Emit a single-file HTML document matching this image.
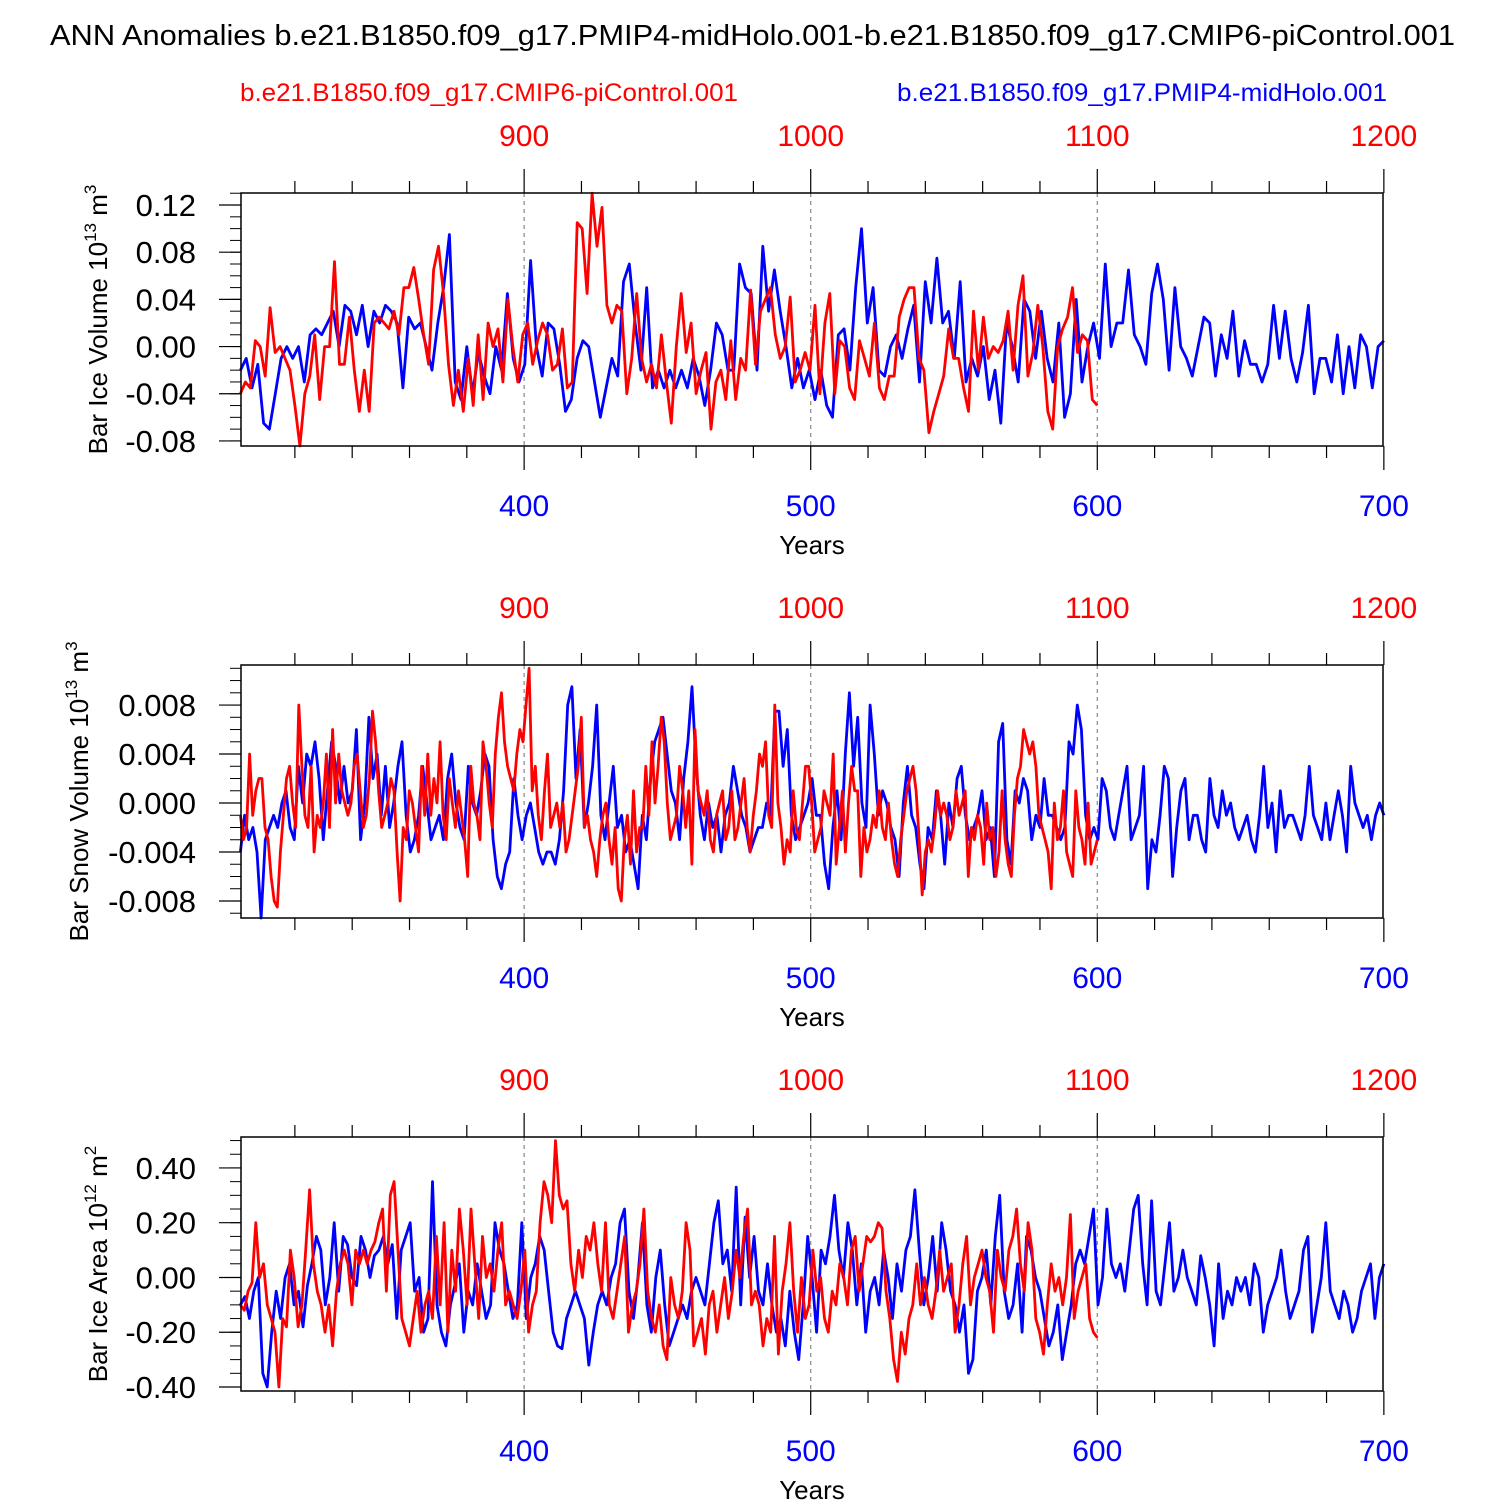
<!DOCTYPE html>
<html><head><meta charset="utf-8"><style>
html,body{margin:0;padding:0;background:#fff;}
svg{display:block;font-family:"Liberation Sans",Arial,sans-serif;}
</style></head><body>
<svg id="chart" width="1500" height="1500" viewBox="0 0 1500 1500">
<text x="50" y="45" font-size="29" textLength="1405" lengthAdjust="spacingAndGlyphs">ANN Anomalies b.e21.B1850.f09_g17.PMIP4-midHolo.001-b.e21.B1850.f09_g17.CMIP6-piControl.001</text>
<text x="240" y="101" font-size="25" fill="#ff0000" textLength="498" lengthAdjust="spacingAndGlyphs">b.e21.B1850.f09_g17.CMIP6-piControl.001</text>
<text x="897" y="101" font-size="25" fill="#0000ff" textLength="490" lengthAdjust="spacingAndGlyphs">b.e21.B1850.f09_g17.PMIP4-midHolo.001</text>
</svg>
<script>
const blueStart = 301, blueEnd = 700, redStart = 301, redEnd = 600, redOffset = 500;
const xTicksBottom = [400, 500, 600, 700];
const xTicksTopLabels = [900, 1000, 1100, 1200];

const iceVolTicks = [0.12, 0.08, 0.04, 0.00, -0.04, -0.08];
const iceVolTickLabels = ["0.12","0.08","0.04","0.00","-0.04","-0.08"];
const iceVolBlue = [-0.02,-0.01,-0.035,-0.015,-0.065,-0.07,-0.04,-0.01,0.0,-0.01,0.0,-0.03,0.01,0.015,0.01,0.02,0.03,0.0,0.035,0.03,0.01,0.035,0.0,0.03,0.02,0.035,0.03,0.02,-0.035,0.025,0.015,0.02,0.0,-0.02,0.02,0.05,0.095,-0.03,-0.045,0.0,-0.04,-0.005,-0.025,-0.04,0.0,-0.02,0.045,-0.01,-0.03,-0.015,0.073,0.0,-0.025,0.02,0.015,-0.015,-0.055,-0.045,-0.01,0.005,0.0,-0.03,-0.06,-0.035,-0.01,-0.025,0.055,0.07,0.02,-0.02,0.05,-0.035,-0.02,-0.035,-0.02,-0.035,-0.02,-0.035,-0.01,-0.025,-0.05,-0.02,0.02,0.01,-0.02,-0.02,0.07,0.05,0.045,-0.02,0.085,0.03,0.065,0.03,0.0,-0.035,-0.01,-0.035,-0.02,-0.045,-0.02,-0.05,-0.06,0.01,0.015,-0.02,0.05,0.1,0.02,0.05,-0.02,-0.025,0.0,0.01,-0.01,0.015,0.035,-0.03,0.055,0.02,0.075,0.02,0.03,-0.01,0.055,-0.03,-0.01,-0.025,0.0,-0.045,-0.02,-0.065,0.02,0.0,-0.03,0.04,0.03,-0.01,0.03,-0.01,-0.03,0.02,-0.06,-0.04,0.04,-0.03,0.0,0.02,-0.01,0.07,0.0,0.02,0.02,0.065,0.01,0.0,-0.015,0.045,0.07,0.04,-0.02,0.05,0.0,-0.01,-0.025,0.0,0.025,0.02,-0.025,0.01,-0.01,0.03,-0.025,0.005,-0.015,-0.015,-0.03,-0.015,0.035,-0.01,0.03,-0.01,-0.03,-0.005,0.035,-0.04,-0.01,-0.01,-0.03,0.01,-0.04,0.0,-0.035,0.01,0.0,-0.035,0.0,0.005];
const iceVolRed = [-0.04,-0.03,-0.035,0.005,0.0,-0.025,0.033,-0.005,0.0,-0.01,-0.02,-0.05,-0.085,-0.04,-0.025,0.01,-0.045,0.0,0.0,0.072,-0.015,-0.015,0.025,-0.02,-0.055,-0.02,-0.055,0.02,0.025,0.02,0.015,0.03,0.01,0.05,0.05,0.067,0.04,0.01,-0.015,0.065,0.085,0.045,-0.015,-0.05,-0.02,-0.055,-0.01,-0.05,0.01,-0.045,0.02,0.0,0.015,-0.03,0.04,0.0,-0.03,0.01,0.02,-0.015,0.005,0.02,0.01,-0.02,-0.015,0.015,-0.035,-0.03,0.105,0.1,0.045,0.13,0.085,0.118,0.035,0.02,0.035,0.03,-0.04,-0.01,0.045,-0.01,-0.03,-0.015,-0.035,0.01,-0.03,-0.065,0.0,0.045,-0.005,0.02,-0.04,-0.02,-0.005,-0.07,-0.03,-0.02,-0.045,0.005,-0.045,-0.01,-0.02,0.048,-0.015,0.03,0.04,0.05,0.01,-0.01,0.0,0.042,-0.03,-0.02,-0.005,-0.02,0.035,-0.04,0.02,0.045,-0.04,0.005,0.0,-0.035,-0.045,0.005,-0.01,-0.025,0.02,-0.035,-0.045,-0.025,-0.025,0.025,0.04,0.05,0.05,-0.01,-0.02,-0.073,-0.055,-0.04,-0.025,0.015,-0.01,-0.01,-0.035,-0.055,0.03,-0.02,0.025,-0.01,0.0,-0.005,0.005,0.03,-0.02,0.035,0.06,-0.025,-0.005,0.035,0.0,-0.055,-0.07,0.0,0.015,0.025,0.05,-0.005,0.01,0.005,-0.045,-0.05];

const snowTicks = [0.008, 0.004, 0.000, -0.004, -0.008];
const snowTickLabels = ["0.008","0.004","0.000","-0.004","-0.008"];
const snowBlue = [-4,-1,-3,-2,-4,-9.5,-3,-2,-1,-2,0,1,-2,-3,3,0,4,3,5,2,-3,1,5,3,0,3,0,1,6,-3,0,7,2,4,-1,3,-2,0,3,5,-1,-4,-3,-1,3,0,-3,-2,-1,-3,2,4,0,-2,-3,3,0,-1,1,4,3,-3,-6,-7,-5,-4,2,-1,-3,-1,0,-2,-4,-5,-4,-4,-5,-3,1,8,9.5,2,6,-2,0,3,8,-1,-3,0,3,-2,-1,-4,-3,-5,-7,-1,-3,2,5,6,7,4,1,0,-3,2,5,9.5,3,-1,-3,0,-2,-1,-4,-1,0,3,1,-1,-2,-4,-3,-2,-2,0,-1,7.5,7.5,3,6,-1,-3,-2,-1,0,2,-1,-1,-5,-7,-2,1,-3,4,9,3,7,0,-2,8,4,-1,1,0,-2,-3,-6,0,3,-1,-2,-5,-7,-2,-3,1,-1,-5,0,-2,2,3,-1,-3,-2,-1,1,-3,-2,-6,5,6.5,-3,-5,1,0,2,1,-3,-1,-2,2,-1,-1,-2,-3,-2,5,4,8,6,-1,-3,-2,-3,2,1,-2,-3,-1,1,3,-3,-2,-1,3,-7,-3,-4,-1,3,2,-6,-2,1,2,-3,-1,-1,-3,-4,2,-1,-2,1,-1,0,-2,-3,-2,-1,-3,-4,-1,3,-2,0,-4,1,-2,-1,-1,-2,-3,-1,3,-1,-2,-3,0,-3,-1,1,-1,-4,3,0,-1,-2,-1,-3,-1,0,-1];
const snowRed = [-1,-3,-2,4,-1,1,2,2,-2,-3,-6,-8,-8.5,-4,-1,2,3,0,-2,8,3,-1,-2,3,-4,-1,-2,0,4,-2,6,0,4,1,0,-1,0,3,4,1,-2,-1,2,7.5,5,1,-2,-1,0,2,1,-4,-8,-2,-3,1,0,-2,-4,3,-1,4,-1,2,0,5,-1,-3,2,0,-2,1,-1,-3,-6,3,0,-1,-3,5,3,0,-2,4,7,9,5,3,2,1,4,6,5,8,11,1,3,-1,-3,1,4,-2,-1,0,-2,0,-4,-3,-1,1,3,7,-2,-1,-3,-4,-6,-3,-1,0,-3,-5,-2,-7,-8,-3,-1,-5,1,-4,-2,-2,3,-1,5,0,3,7,5,0,-3,-2,-1,3,1,-2,1,-5,6,1,0,-1,1,-3,-4,-1,0,1,-3,-2,1,-3,-2,0,2,-2,-4,-1,1,4,3,5,-1,-2,8,0,-2,-5,-3,-4,1,-2,-3,0,3,3,0,-4,-3,-2,1,0,-1,4,-5,-2,1,-4,0,3,1,1,-6,-2,-4,-3,-1,-2,1,-2,-3,0,-3,-5,-6,-3,-1,1,2,3,1,-3,-7.5,-4,-3,-4,-2,1,-1,0,-1,-3,-2,1,-1,0,1,-6,-2,-3,-1,-2,-5,0,-3,-2,-6,-4,1,-3,-5,-6,-1,2,3,6,5,4,5,3,-1,-2,-3,-4,-7,0,-3,-2,1,-4,-5,-6,1,-2,-3,-5,0,-5,-4,-3];

const areaTicks = [0.40, 0.20, 0.00, -0.20, -0.40];
const areaTickLabels = ["0.40","0.20","0.00","-0.20","-0.40"];
const areaBlue = [-10,-7,-15,-5,0,-35,-40,-20,-5,-15,0,5,-10,-5,-18,-3,5,15,10,-10,0,20,-5,15,12,0,-3,15,10,0,8,10,15,5,12,-15,10,15,20,-5,0,-20,-15,35,-10,-20,-25,-10,-3,5,-20,-5,-10,5,-5,-15,-10,20,10,5,-5,-15,-10,20,-15,0,5,15,10,-5,-20,-25,-26,-15,-10,-5,-10,-15,-32,-20,-10,-5,-10,0,5,20,25,-5,-15,0,20,-10,-20,0,10,-10,-25,-20,-15,-10,-15,-5,0,-5,-10,5,20,28,5,10,-5,33,-10,22,0,15,-5,-10,5,-10,-20,-15,-25,-5,-20,-30,-10,15,0,-20,10,5,15,30,10,0,20,10,-10,5,-20,-5,0,-10,10,0,-15,5,-5,10,15,32,10,-10,0,15,-5,20,10,-5,-10,-20,-10,-35,-30,-5,0,10,-10,15,30,-5,-15,-10,5,-20,15,10,0,-5,-15,-25,-20,-10,-30,-20,-10,5,10,5,15,25,-10,0,25,5,0,5,-5,10,25,30,5,-10,28,-5,-10,5,20,-5,0,10,0,-5,-10,8,0,-10,-25,5,-15,-5,-10,0,-5,0,-10,5,0,-20,-10,-5,0,10,-5,-15,-10,-5,10,15,-20,-10,0,20,-5,-10,-15,-5,-10,-20,-15,-5,0,5,-15,0,5];
const areaRed = [-10,-12,-5,-2,20,0,5,-10,-15,-20,-40,-15,-18,10,0,-18,-10,10,32,5,-5,-10,-20,-10,-25,-5,5,10,5,-10,10,5,10,5,10,13,20,25,-5,30,35,10,-15,-20,-25,-15,-5,-20,-10,-5,-15,15,-10,20,-20,10,-5,25,10,-10,25,5,-15,15,0,5,-5,10,20,-10,-5,-10,-15,-5,10,-20,-10,-5,20,35,30,20,50,30,25,28,5,-5,10,0,15,10,20,5,-5,20,-10,-15,-5,5,15,-20,-10,-5,5,25,-5,-15,-20,-10,-25,-30,0,-10,-15,-5,20,10,-25,-20,-15,-28,-10,-5,-20,-10,0,-15,-5,10,0,15,25,-10,-5,-10,-25,-15,-20,15,-28,-5,5,20,-5,-20,0,-15,-10,10,-5,0,-15,-20,-5,-10,5,0,-10,10,15,-5,5,15,13,15,20,18,-5,-15,-30,-38,-20,-28,-15,-10,5,-10,0,-10,-15,-5,10,-5,0,5,-20,-10,5,15,-10,0,5,10,0,-5,-20,10,0,-5,10,15,25,5,-5,20,10,-15,-20,-28,-10,5,-5,0,-10,0,23,-15,-5,0,5,-15,-20,-22];

const NS = "http://www.w3.org/2000/svg";
const svg = document.getElementById("chart");
function mk(tag, attrs, parent) {
  const e = document.createElementNS(NS, tag);
  for (const k in attrs) e.setAttribute(k, attrs[k]);
  (parent || svg).appendChild(e);
  return e;
}
const X0 = 241, X1 = 1383, YEAR0 = 301.2, YEAR1 = 699.7;
function xScale(yr) { return X0 + (yr - YEAR0) / (YEAR1 - YEAR0) * (X1 - X0); }

function drawPanel(name, top, bottom, vmin, vmax, scale, ticks, tickLabels, minorStep, blue, red, titleMain, titleExp, titleUnit, unitExp, titleX) {
  const g = mk("g", {});
  
  
  const yScale = v => bottom - (v - vmin) / (vmax - vmin) * (bottom - top);
  [400, 500, 600].forEach(yr => {
    const l = mk("line", {x1: xScale(yr), x2: xScale(yr), y1: top, y2: bottom, stroke: "#888", "stroke-width": 1.2, "stroke-dasharray": "4,4"}, g);
    
    
  });
  for (let yr = 320; yr <= 700; yr += 20) {
    const major = yr % 100 === 0;
    const len = major ? 24 : 12;
    const x = xScale(yr);
    const t1 = mk("line", {x1: x, x2: x, y1: top, y2: top - len, stroke: "#000", "stroke-width": 1.2}, g);
    
    
    const t2 = mk("line", {x1: x, x2: x, y1: bottom, y2: bottom + len, stroke: "#000", "stroke-width": 1.2}, g);
    
    
  }
  xTicksBottom.forEach((yr, i) => {
    const t = mk("text", {x: xScale(yr), y: bottom + 70, "text-anchor": "middle", "font-size": 30, fill: "#0000ff"}, g);
    t.textContent = yr;
    
    
    const t2 = mk("text", {x: xScale(yr), y: top - 47, "text-anchor": "middle", "font-size": 30, fill: "#ff0000"}, g);
    t2.textContent = xTicksTopLabels[i];
    
    
  });
  const yt = mk("text", {x: 812, y: bottom + 108, "text-anchor": "middle", "font-size": 26}, g);
  yt.textContent = "Years";
  
  
  const nMin = Math.ceil(vmin / minorStep - 1e-9), nMax = Math.floor(vmax / minorStep + 1e-9);
  for (let k = nMin; k <= nMax; k++) {
    const y = yScale(k * minorStep);
    const l = mk("line", {x1: X0 - 11, x2: X0, y1: y, y2: y, stroke: "#000", "stroke-width": 1}, g);
    
    
  }
  ticks.forEach((v, i) => {
    const y = yScale(v);
    const l = mk("line", {x1: X0 - 22, x2: X0, y1: y, y2: y, stroke: "#000", "stroke-width": 1.2}, g);
    
    
    const t = mk("text", {x: 196, y: y + 11, "text-anchor": "end", "font-size": 31}, g);
    t.textContent = tickLabels[i];
    
    
  });
  const cy = (top + bottom) / 2;
  const tt = mk("text", {transform: `translate(${titleX},${cy}) rotate(-90)`, "text-anchor": "middle", "font-size": 26}, g);
  
  
  const s1 = mk("tspan", {}, tt); s1.textContent = titleMain + " 10";
  const s2 = mk("tspan", {dy: -11, "font-size": 17}, tt); s2.textContent = titleExp;
  const s3 = mk("tspan", {dy: 11}, tt); s3.textContent = " " + titleUnit;
  const s4 = mk("tspan", {dy: -11, "font-size": 17}, tt); s4.textContent = unitExp;
  function series(vals, start, end, color, nm) {
    const step = (end - start) / (vals.length - 1);
    const pts = vals.map((v, i) => {
      const yy = Math.max(top, Math.min(bottom, yScale(v * scale)));
      return xScale(start + i * step).toFixed(1) + "," + yy.toFixed(1);
    }).join(" ");
    const p = mk("polyline", {points: pts, fill: "none", stroke: color, "stroke-width": 2.8, "stroke-linejoin": "round"}, g);
    
    
  }
  series(blue, blueStart, blueEnd, "#0000ff", name + '-blue-line');
  series(red, redStart, redEnd, "#ff0000", name + '-red-line');
  const fr = mk("rect", {x: X0, y: top, width: X1 - X0, height: bottom - top, fill: "none", stroke: "#000", "stroke-width": 1.5}, g);
  
  
}

drawPanel("ice-volume", 193, 446, -0.0843, 0.1302, 1, iceVolTicks, iceVolTickLabels, 0.01, iceVolBlue, iceVolRed, "Bar Ice Volume", "13", "m", "3", 107);
drawPanel("snow-volume", 665, 918, -0.00939, 0.01127, 0.001, snowTicks, snowTickLabels, 0.001, snowBlue, snowRed, "Bar Snow Volume", "13", "m", "3", 88);
drawPanel("ice-area", 1137, 1391, -0.4146, 0.513, 0.01, areaTicks, areaTickLabels, 0.05, areaBlue, areaRed, "Bar Ice Area", "12", "m", "2", 107);
</script>
</body></html>
